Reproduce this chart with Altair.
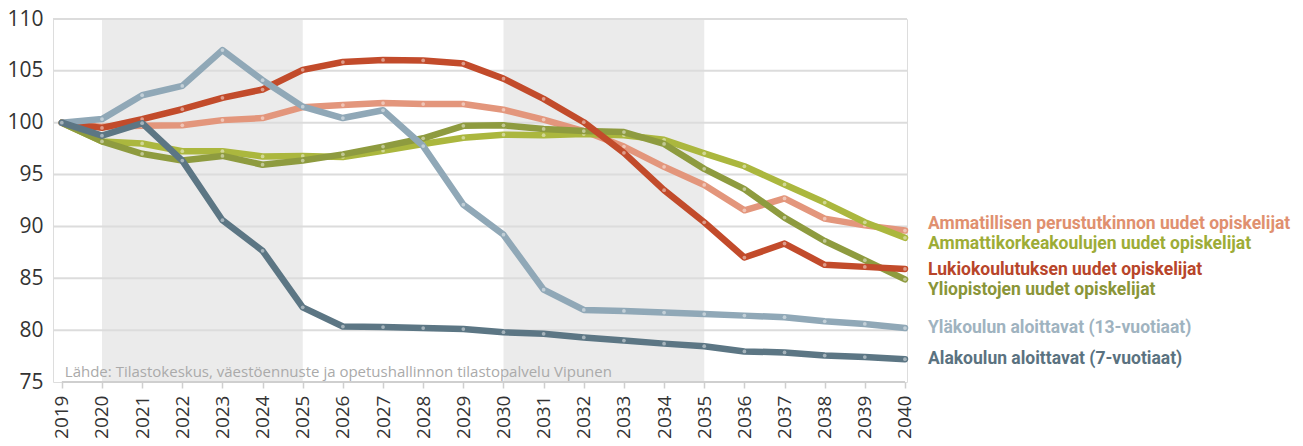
import altair as alt
import pandas as pd

years = list(range(2019, 2041))

series_names = [
    "Ammatillisen perustutkinnon uudet opiskelijat",
    "Ammattikorkeakoulujen uudet opiskelijat",
    "Yliopistojen uudet opiskelijat",
    "Lukiokoulutuksen uudet opiskelijat",
    "Yläkoulun aloittavat (13-vuotiaat)",
    "Alakoulun aloittavat (7-vuotiaat)",
]

ammatillinen = [100, 99.6, 99.7, 99.75, 100.25, 100.45, 101.5, 101.7, 101.9, 101.8, 101.8,
                101.25, 100.3, 99.2, 97.7, 95.75, 94.0, 91.55, 92.7, 90.75, 90.1, 89.6]
amk = [100, 98.2, 98.0, 97.25, 97.25, 96.75, 96.8, 96.7, 97.3, 97.95, 98.55,
       98.85, 98.8, 98.9, 98.8, 98.35, 97.05, 95.8, 94.05, 92.3, 90.4, 88.9]
yliopisto = [100, 98.2, 97.0, 96.35, 96.8, 95.95, 96.35, 96.95, 97.7, 98.5, 99.7,
             99.75, 99.4, 99.2, 99.1, 97.95, 95.55, 93.6, 90.85, 88.6, 86.75, 84.9]
lukio = [100, 99.5, 100.35, 101.3, 102.4, 103.2, 105.1, 105.85, 106.05, 106.0, 105.7,
         104.25, 102.3, 100.05, 97.1, 93.5, 90.4, 87.0, 88.35, 86.3, 86.1, 85.9]
ylakoulu = [100, 100.35, 102.65, 103.55, 107.0, 104.1, 101.55, 100.45, 101.2, 97.75, 92.1,
            89.2, 83.9, 81.95, 81.85, 81.7, 81.55, 81.4, 81.25, 80.85, 80.6, 80.2]
alakoulu = [100, 98.75, 99.95, 96.35, 90.6, 87.65, 82.2, 80.35, 80.3, 80.2, 80.1,
            79.8, 79.65, 79.3, 79.0, 78.7, 78.45, 77.95, 77.85, 77.55, 77.4, 77.2]

band_starts = [2020, 2030]
band_ends = [2025, 2035]
y_ticks = [75, 80, 85, 90, 95, 100, 105, 110]
grid_values = [80, 85, 90, 95, 100, 105, 110]
source_text = "Lähde: Tilastokeskus, väestöennuste ja opetushallinnon tilastopalvelu Vipunen"

values = [ammatillinen, amk, yliopisto, lukio, ylakoulu, alakoulu]
line_colors = ["#E3967C", "#ABB73E", "#8E9B3F", "#C24B2B", "#90A8B7", "#5C7684"]
label_colors = ["#E0906F", "#9DAC36", "#8A9538", "#B8452A", "#9FB3C0", "#5A7280"]
label_dy = [-7, 6, 11, 1, 0, 0]
draw_order = [0, 1, 2, 3, 4, 5]

W, H = 854, 363
LABEL_FONT = "Roboto"
AXIS_FONT = "Open Sans"

xscale = alt.Scale(domain=[2018.78, 2040.05], nice=False, zero=False)
yscale = alt.Scale(domain=[75, 110], nice=False, zero=False)

bands_df = pd.DataFrame({"start": band_starts, "end": band_ends})
bands = alt.Chart(bands_df).mark_rect(color="#EBEBEB").encode(
    x=alt.X("start:Q", scale=xscale,
            axis=alt.Axis(values=years, format="d", labelAngle=270, labelAlign="right",
                          labelBaseline="middle", labelFontSize=19, labelFont=AXIS_FONT,
                          labelColor="#333333", labelPadding=7, tickColor="#CFCFCF",
                          tickSize=6, tickWidth=1.5, domain=False, grid=False, title=None,
                          labelOverlap=False)),
    x2="end:Q",
    y=alt.Y("lo:Q", scale=yscale,
            axis=alt.Axis(values=y_ticks, labelFontSize=21, labelFont=AXIS_FONT,
                          labelColor="#333333", labelPadding=10, ticks=False, domain=False,
                          grid=False, title=None)),
    y2="hi:Q",
).transform_calculate(lo="75", hi="110")

grid_df = pd.DataFrame({"g": grid_values})
grid = alt.Chart(grid_df).mark_rule(color="#DCDCDC", strokeWidth=2).encode(
    y=alt.Y("g:Q", scale=yscale),
    x=alt.value(0), x2=alt.value(W),
)

axis_line = alt.Chart(pd.DataFrame({"a": [years[0]], "b": [years[-1]], "y": [75]})).mark_rule(
    color="#CFCFCF", strokeWidth=2
).encode(x=alt.X("a:Q", scale=xscale), x2="b:Q", y=alt.Y("y:Q", scale=yscale))

source = alt.Chart(pd.DataFrame({"t": [source_text], "x": [years[0]], "y": [75]})).mark_text(
    align="left", baseline="alphabetic", dx=3, dy=-5, fontSize=15, font=AXIS_FONT,
    color="#AAAAAA"
).encode(x=alt.X("x:Q", scale=xscale), y=alt.Y("y:Q", scale=yscale), text="t:N")

layers = [bands, grid, axis_line, source]
for i in draw_order:
    df = pd.DataFrame({"year": years, "value": values[i]})
    base = alt.Chart(df).encode(x=alt.X("year:Q", scale=xscale), y=alt.Y("value:Q", scale=yscale))
    layers.append(base.mark_line(color=line_colors[i], strokeWidth=6.5, strokeCap="round",
                                 strokeJoin="round"))
    layers.append(base.mark_circle(size=14, color="white", opacity=0.45))

for i, name in enumerate(series_names):
    ldf = pd.DataFrame({"year": [years[-1]], "value": [values[i][-1]], "label": [name]})
    layers.append(alt.Chart(ldf).mark_text(
        align="left", baseline="middle", dx=23, dy=label_dy[i], fontSize=17.5,
        fontWeight="bold", font=LABEL_FONT, color=label_colors[i]
    ).encode(x=alt.X("year:Q", scale=xscale), y=alt.Y("value:Q", scale=yscale), text="label:N"))

chart = alt.layer(*layers).properties(
    width=W, height=H,
    padding={"left": 45, "top": 11, "right": 388, "bottom": 62},
    autosize=alt.AutoSizeParams(type="none"),
).configure_view(stroke=None).configure(background="white")

chart.save("out.html", embed_options={"renderer": "svg", "actions": False})
